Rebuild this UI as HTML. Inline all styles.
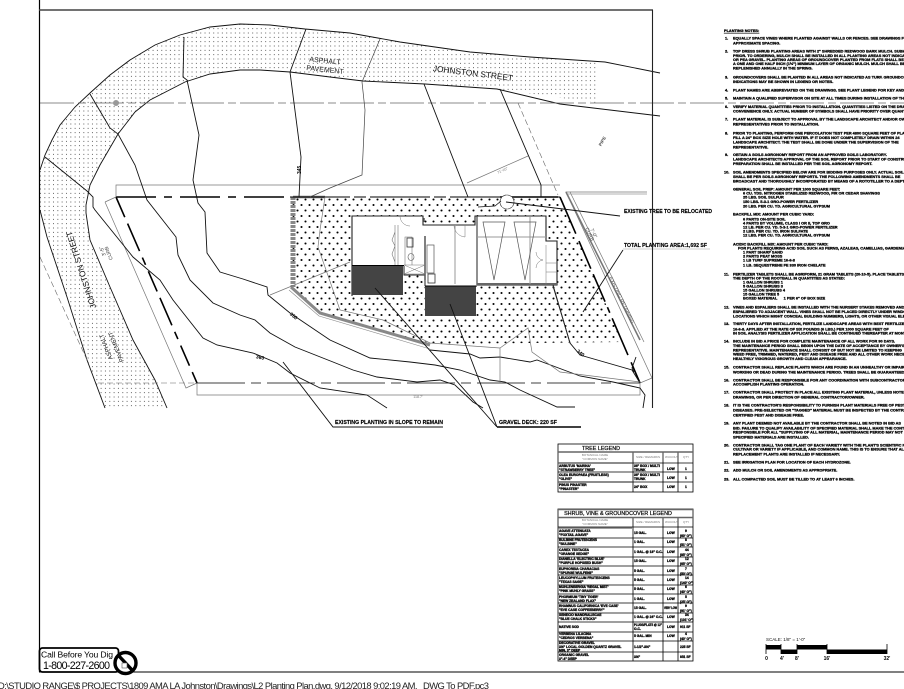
<!DOCTYPE html>
<html><head><meta charset="utf-8"><style>
html,body{margin:0;padding:0;background:#fff;width:904px;height:689px;overflow:hidden}
svg{display:block}
text{font-family:"Liberation Sans",sans-serif}
.n{filter:blur(.3px)}
.n text{font-size:3.85px;font-weight:bold;fill:#000;stroke:#000;stroke-width:.3}
.t{filter:blur(.25px)}
.t text{font-size:3.3px;font-weight:bold;fill:#000;stroke:#000;stroke-width:.3}
.h text{font-size:3px;fill:#777}
.l{font-size:5.2px;font-weight:bold;fill:#000;stroke:#000;stroke-width:.15}
.g{font-size:3.6px;fill:#777}
.c{fill:none;stroke:#111;stroke-width:.9}
.th{fill:none;stroke:#777;stroke-width:.7}
</style></head><body>
<svg width="904" height="689" viewBox="0 0 904 689" xmlns="http://www.w3.org/2000/svg">
<defs>
<pattern id="pd" width="8" height="11" patternUnits="userSpaceOnUse"><circle cx="1.5" cy="1.5" r="1.05" fill="#000"/><circle cx="5.5" cy="7" r="1.05" fill="#000"/></pattern>
<clipPath id="band"><path d="M105,408 L87,360 67,297 47,237 40,210 40,170 45,155 52,140 60,125 75,107 90,93 110,75 130,60 155,45 180,35 210,27 240,24 270,25 305,29 350,33 400,42 470,52 530,57 598,62 598,103 497,89 425,84 363,81 330,77 290,72 260,70 240,70 210,74 185,82 150,100 135,112 118,134 100,165 90,185 86,205 86,213 90,240 110,287 133,340 155,380 167,408Z"/></clipPath>
<path id="r3" d="M40,0H600M40,4.33H600M40,8.67H600" fill="none" stroke="#666" stroke-width="1" stroke-dasharray="1 3.33"/>
<g id="r9"><use href="#r3"/><use href="#r3" y="13"/><use href="#r3" y="26"/></g>
<g id="r27"><use href="#r9"/><use href="#r9" y="39"/><use href="#r9" y="78"/></g>
</defs>
<rect width="904" height="689" fill="#fff"/>

<!-- street dotted -->
<g clip-path="url(#band)"><use href="#r27" y="20"/><use href="#r27" y="137"/><use href="#r27" y="254"/><use href="#r9" y="371"/></g>
<path class="c" d="M105,408 L87,360 67,297 47,237 40,210 M40,170 45,155 52,140 60,125 75,107 90,93 110,75 130,60 155,45 180,35 210,27 240,24 270,25 305,29 350,33 400,42 470,52 530,57 605,62 660,73"/>
<path class="c" d="M660,116 560,104 497,89 425,84 363,81 330,77 290,72 260,70 240,70 210,74 185,82 150,100 135,112 118,134 100,165 90,185 86,205 86,213 90,240 110,287 133,340 155,380 167,408"/>

<!-- centre line -->
<path d="M40,103H904" stroke="#666" stroke-width=".8" stroke-dasharray="34 4 8 4"/>
<circle cx="116" cy="103" r="3" fill="#999"/>

<!-- planting area -->
<path d="M291,197 L560,197 622,342 430,344 320,313 291,287Z" fill="url(#pd)"/>

<!-- building -->
<path d="M352,216H423L425,225H475L477,216H546V241H557V285H476V286H425V275H403V266H352Z" fill="#fff"/>
<path d="M352,296V216H423V225H475V216H546V241H557V285H477" fill="none" stroke="#222" stroke-width="1.1"/>
<path d="M477,216V285M404,266V275H425V286" fill="none" stroke="#222" stroke-width="1"/>
<path d="M424,222V218M425,236V280" fill="none" stroke="#555" stroke-width="1.5"/>
<path d="M477,284H557" stroke="#666" stroke-width="2"/>
<path d="M455,225V284M477,237H546M530,217V284" fill="none" stroke="#999" stroke-width="1"/>
<path d="M483,222H505L494,280ZM514,222H536L525,280Z" fill="none" stroke="#555" stroke-width=".7"/>
<rect x="352" y="266" width="51" height="29" fill="#444"/>
<path d="M352,265.5H404" stroke="#000" stroke-width="1"/>
<rect x="425" y="286" width="51" height="30" fill="#444"/>
<path d="M425,286H477" stroke="#000" stroke-width="1"/>
<path d="M395,225V265M398,225V265M405,265V237H412V265M395,232l-3,8 3,6 -3,8 3,8" fill="none" stroke="#777" stroke-width=".6"/>
<rect x="407" y="238" width="6" height="9" fill="none" stroke="#333" stroke-width=".8"/>
<ellipse cx="411" cy="257" rx="3" ry="3.5" fill="none" stroke="#555" stroke-width=".6"/>
<path d="M404,265H425M404,274H425M404,265L425,274M425,265L404,274" stroke="#777" stroke-width=".5"/>
<rect x="427" y="245" width="7" height="28" fill="none" stroke="#555" stroke-width=".7"/>
<rect x="428" y="274" width="7" height="9" fill="none" stroke="#333" stroke-width=".8"/>
<path d="M465,225v12a12,12 0 0 1 -11,-12M400,216a10,10 0 0 0 10,10M546,245v40M536,252a8,8 0 0 0 7,8a8,8 0 0 0 -7,8M546,263h11M546,272h11" fill="none" stroke="#777" stroke-width=".5"/>

<!-- walls -->
<path d="M293,197V287" stroke="#888" stroke-width="5" stroke-dasharray="3 1"/>
<path d="M293,197H325" stroke="#777" stroke-width="2.5"/>
<path d="M291,287L320,313 430,345" fill="none" stroke="#888" stroke-width="3"/>
<path d="M289,290L319,316 430,349" fill="none" stroke="#888" stroke-width=".6"/>

<!-- property line -->
<path d="M116,197H290" stroke="#000" stroke-width="1.6" stroke-dasharray="40 8 8 8"/>
<path d="M290,197H560" stroke="#000" stroke-width="1" stroke-dasharray="60 4 12 4"/>
<path d="M500,197H558" stroke="#000" stroke-width="1.5"/>
<path d="M116,197L197,383" stroke="#000" stroke-width="1.6" stroke-dasharray="22 7 30 7 8 7"/>
<path d="M197,383H640" stroke="#000" stroke-width=".8" stroke-dasharray="48 6 10 6"/>
<path d="M560,197L640,383" stroke="#000" stroke-width="1.6" stroke-dasharray="40 8 30 6 30 6 6 6"/>

<!-- dims -->
<path class="th" d="M116,197V185H560M116,185V197M105,202L116,197M105,202L186,388 197,383M197,383V395H640V383M652,378L566,192H647M652,378L640,383M467,183L528,156M270,295L350,262"/>
<path d="M566,192L640,340" stroke="#777" stroke-width="1.6"/>
<path d="M570,192L644,342" stroke="#777" stroke-width=".7"/>
<path d="M568,194H647" stroke="#999" stroke-width=".8"/>
<path d="M40,257L87,360M98,383H197M518,103L558,195" fill="none" stroke="#666" stroke-width=".6" stroke-dasharray="6 3"/>

<!-- contours -->
<path class="c" d="M45,157L87,191 93,197 93,207 95,210 133,257 160,280 173,300 203,338 217,345 253,353 277,363 290,373 320,388 367,395 387,408"/>
<path class="c" d="M90,94L110,128 118,134 135,165 147,200 176,237 178,255 190,280 213,303 240,315 255,320 270,333 295,347 333,362 353,370 377,377 417,382 440,380 455,385 473,402 483,408"/>
<path class="c" d="M184,37L183,77 187,80 199,135 193,180 198,203 205,212 207,253 220,272 243,279 267,287 268,295 290,313 330,340 370,358 410,362 435,365 460,370 490,380 505,382 520,390 557,407 575,407"/>
<path class="c" d="M430,350L470,354 480,358 500,357 530,362 537,360 580,376 613,382 640,388 645,395 643,408"/>
<path class="c" d="M306,29L290,72 301,157 299,197"/>
<path class="c" d="M553,285L570,343 580,355 632,370 640,383"/>
<path class="c" d="M636,357L632,368 634,372"/>
<path class="c" d="M424,84L468,197M500,89L541,185V197"/>
<path d="M380,39L362,82 365,110 362,175 330,188 310,197" fill="none" stroke="#444" stroke-width=".7"/>
<path class="th" d="M325,197L320,230 318,247 340,310 383,320 430,343 500,348 528,328 532,352 560,372 640,382M500,348V383"/>
<path d="M553,286L570,343" stroke="#222" stroke-width=".9"/>

<!-- tree -->
<circle cx="507" cy="202" r="7" fill="#fff" stroke="#444" stroke-width=".7" stroke-dasharray="5 .5"/>
<path d="M478,207L495,206 501,201" fill="none" stroke="#111" stroke-width=".8"/>

<!-- leaders -->
<path d="M506,202L620,216" stroke="#111" stroke-width=".9"/>
<path d="M623,250L583,312" stroke="#111" stroke-width=".9"/>
<path d="M623,249H710" stroke="#bbb" stroke-width=".8"/>
<path d="M375,288L497,427M450,304L497,427" stroke="#111" stroke-width=".9"/>
<path d="M497,427H581" stroke="#000" stroke-width="1.6"/>
<path d="M283,362L333,427H443" fill="none" stroke="#111" stroke-width=".9"/>

<!-- plan labels -->
<text class="l" x="624" y="213" textLength="88" lengthAdjust="spacingAndGlyphs">EXISTING TREE TO BE RELOCATED</text>
<text class="l" x="624" y="247" textLength="83" lengthAdjust="spacingAndGlyphs">TOTAL PLANTING AREA:1,692 SF</text>
<text class="l" x="335" y="424" textLength="108" lengthAdjust="spacingAndGlyphs">EXISTING PLANTING IN SLOPE TO REMAIN</text>
<text class="l" x="499" y="424" textLength="58" lengthAdjust="spacingAndGlyphs">GRAVEL DECK: 220 SF</text>
<text x="325" y="63" font-size="7" text-anchor="middle" fill="#222" transform="rotate(6 325 61)">ASPHALT</text>
<text x="325" y="72" font-size="7" text-anchor="middle" fill="#222" transform="rotate(6 325 70)">PAVEMENT</text>
<text x="473" y="76" font-size="8.3" text-anchor="middle" fill="#111" transform="rotate(7 473 73)">JOHNSTON STREET</text>
<text x="81" y="273" font-size="8.3" text-anchor="middle" fill="#111" transform="rotate(-108 81 270)">JOHNSTON STREET</text>
<text x="106" y="349" font-size="6" text-anchor="middle" fill="#222" transform="rotate(-112 106 347)">ASPHALT</text>
<text x="116" y="349" font-size="6" text-anchor="middle" fill="#222" transform="rotate(-112 116 347)">PAVEMENT</text>
<text x="104" y="258" font-size="5" fill="#444" transform="rotate(-112 104 256)">3'-5"</text>
<text x="111" y="262" font-size="5" fill="#444" transform="rotate(-112 111 260)">CURB</text>
<text x="296" y="175" font-size="5" font-weight="bold" transform="rotate(-90 298 172)">345</text>
<text x="290" y="317" font-size="5" font-weight="bold" transform="rotate(40 293 315)">350</text>
<text x="256" y="359" font-size="5" font-weight="bold" transform="rotate(12 260 357)">360</text>
<text x="577" y="354" font-size="5" font-weight="bold" transform="rotate(40 580 352)">340</text>
<text x="602" y="143" font-size="4.5" font-weight="bold" fill="#555" text-anchor="middle" transform="rotate(-60 602 141)">PIPE</text>
<text class="g" x="418" y="398" text-anchor="middle">118.7'</text>
<text class="g" x="497" y="174" transform="rotate(-24 497 172)">71'-10"</text>
<text x="594" y="235" font-size="5" fill="#555" text-anchor="middle" transform="rotate(64 594 233)">7'-0"</text>
<text x="590" y="236" font-size="5" fill="#555" text-anchor="middle" transform="rotate(64 590 234)">CURB</text>
<text x="622" y="302" font-size="5" fill="#555" text-anchor="middle" transform="rotate(64 622 300)">EXISTING RETAINING</text>

<!-- frame -->
<path d="M39.5,0V672" stroke="#000" stroke-width="1.2"/>
<path d="M39,10H653" stroke="#444" stroke-width="1.6"/>
<path d="M652.5,10V408" stroke="#222" stroke-width="1.1"/>
<path d="M39,672H904" stroke="#000" stroke-width="1"/>

<!-- legends -->
<g fill="none" stroke="#000" stroke-width=".8">
<rect x="558" y="444" width="135" height="48"/>
<path d="M558,463H693M558,472H693M558,482H693M633,452V492M663,452V492M678,452V492"/>
<rect x="558" y="509" width="135" height="152"/>
<path d="M558,527H693M558,538H693M558,547H693M558,557H693M558,566H693M558,575H693M558,585H693M558,594H693M558,603H693M558,613H693M558,622H693M558,632H693M558,641H693M558,652H693M633,517V661M663,517V661M678,517V661"/>
</g>
<path d="M558,452H693M558,463H632M558,482H632" stroke="#666" stroke-width="1.4"/>
<path d="M558,509.5H693M558,517.5H693" stroke="#666" stroke-width="1.6"/>
<path d="M558,528H632M558,557H632M558,566H632M558,585H632M558,613H632M558,632H632M558,641H632" stroke="#666" stroke-width="1.2"/>
<text x="601" y="450" font-size="5.4" text-anchor="middle" fill="#111" stroke="#111" stroke-width=".25">TREE LEGEND</text>
<text x="618" y="515" font-size="5.4" text-anchor="middle" fill="#111" stroke="#111" stroke-width=".25">SHRUB, VINE &amp; GROUNDCOVER LEGEND</text>
<g class="h">
<text x="595" y="456" text-anchor="middle">BOTANICAL NAME</text><text x="595" y="460" text-anchor="middle">"COMMON NAME"</text>
<text x="636" y="458">SIZE / REMARKS</text><text x="665" y="458">WUCOLS</text><text x="683" y="458">QTY</text>
<text x="595" y="521" text-anchor="middle">BOTANICAL NAME</text><text x="595" y="525" text-anchor="middle">"COMMON NAME"</text>
<text x="636" y="523">SIZE / REMARKS</text><text x="665" y="523">WUCOLS</text><text x="683" y="523">QTY</text>
</g>
<g class="t">
<text x="559" y="467">ARBUTUS 'MARINA'</text><text x="559" y="471">"STRAWBERRY TREE"</text><text x="634" y="467">36" BOX / MULTI</text><text x="634" y="471">TRUNK</text><text x="667" y="470">LOW</text><text x="685" y="470">1</text>
<text x="559" y="476">OLEA EUROPAEA (FRUITLESS)</text><text x="559" y="480">"OLIVE"</text><text x="634" y="476">36" BOX / MULTI</text><text x="634" y="480">TRUNK</text><text x="667" y="479">LOW</text><text x="685" y="479">1</text>
<text x="559" y="486">PINUS PINASTER</text><text x="559" y="490">"PINASTER"</text><text x="634" y="488">24" BOX</text><text x="667" y="488">LOW</text><text x="685" y="488">1</text>

<text x="559" y="532">AGAVE ATTENUATA</text><text x="559" y="536">"FOXTAIL AGAVE"</text><text x="634" y="534">15 GAL.</text><text x="667" y="534">LOW</text><text x="685" y="532">9</text><text x="680" y="537">(60' O")</text>
<text x="559" y="541">BULBINE FRUTESCENS</text><text x="559" y="545">"BULBINE"</text><text x="634" y="543">1 GAL.</text><text x="667" y="543">LOW</text><text x="685" y="541">8</text><text x="680" y="546">(51' O")</text>
<text x="559" y="551">CAREX TESTACEA</text><text x="559" y="555">"ORANGE SEDGE"</text><text x="634" y="553">1 GAL. @ 18" O.C.</text><text x="667" y="553">LOW</text><text x="685" y="551">44</text><text x="680" y="556">(85' O")</text>
<text x="559" y="560">DIANELLA 'ELECTRIC BLUE'</text><text x="559" y="564">"PURPLE HOPSEED BUSH"</text><text x="634" y="562">15 GAL.</text><text x="667" y="562">LOW</text><text x="685" y="560">12</text><text x="680" y="565">(65' O")</text>
<text x="559" y="570">EUPHORBIA CHARACIAS</text><text x="559" y="574">"SPURGE WULFENII"</text><text x="634" y="572">5 GAL.</text><text x="667" y="572">LOW</text><text x="685" y="570">7</text><text x="680" y="575">(50' O")</text>
<text x="559" y="579">LEUCOPHYLLUM FRUTESCENS</text><text x="559" y="583">"TEXAS SAGE"</text><text x="634" y="581">5 GAL.</text><text x="667" y="581">LOW</text><text x="685" y="579">14</text><text x="680" y="584">(140' O")</text>
<text x="559" y="588">MUHLENBERGIA 'REGAL MIST'</text><text x="559" y="592">"PINK MUHLY GRASS"</text><text x="634" y="590">5 GAL.</text><text x="667" y="590">LOW</text><text x="685" y="588">6</text><text x="680" y="593">(40' O")</text>
<text x="559" y="598">PHORMIUM 'TINY TIGER'</text><text x="559" y="602">"NEW ZEALAND FLAX"</text><text x="634" y="600">1 GAL.</text><text x="667" y="600">LOW</text><text x="685" y="598">5</text><text x="680" y="603">(25' O")</text>
<text x="559" y="607">RHAMNUS CALIFORNICA 'EVE CASE'</text><text x="559" y="611">"EVE CASE COFFEEBERRY"</text><text x="634" y="609">15 GAL.</text><text x="664" y="609" textLength="13" lengthAdjust="spacingAndGlyphs">VERY LOW</text><text x="685" y="607">9</text><text x="680" y="612">(91' O")</text>
<text x="559" y="616">SENECIO MANDRALISCAE</text><text x="559" y="620">"BLUE CHALK STICKS"</text><text x="634" y="618">1 GAL. @ 24" O.C.</text><text x="667" y="618">LOW</text><text x="685" y="616">34</text><text x="680" y="621">(101' O")</text>
<text x="559" y="628">NATIVE SOD</text><text x="634" y="626" textLength="28" lengthAdjust="spacingAndGlyphs">PLUGS/FLATS @ 12"</text><text x="634" y="630">O.C.</text><text x="667" y="628">LOW</text><text x="680" y="628">911 SF</text>
<text x="559" y="635">VERBENA LILACINA</text><text x="559" y="639">"CEDROS VERBENA"</text><text x="634" y="637">5 GAL. MIN</text><text x="667" y="637">LOW</text><text x="685" y="635">4</text><text x="680" y="640">(40' O")</text>
<text x="559" y="644">DECORATIVE GRAVEL</text><text x="559" y="648">3/4" LOCAL GOLDEN QUARTZ GRAVEL</text><text x="559" y="651.5">MIN. 3" DEEP</text><text x="634" y="648">1-1/2"-3/4"</text><text x="680" y="648">225 SF</text>
<text x="559" y="656">ORGANIC GRAVEL</text><text x="559" y="660">3"-4" DEEP</text><text x="634" y="658">3/4"</text><text x="680" y="658">851 SF</text>
</g>

<!-- notes -->
<g class="n">
<text x="724" y="32" style="text-decoration:underline">PLANTING NOTES:</text>
<text x="725" y="39.5">1.</text><text x="733" y="39.5">EQUALLY SPACE VINES WHERE PLANTED AGAINST WALLS OR FENCES.  SEE DRAWINGS FOR</text>
<text x="733" y="44.5">APPROXIMATE SPACING.</text>
<text x="725" y="52.5">2.</text><text x="733" y="52.5">TOP DRESS SHRUB PLANTING AREAS WITH 2" SHREDDED REDWOOD BARK MULCH. SUBMIT</text>
<text x="733" y="57">PRIOR.  TO ORDERING, MULCH SHALL BE INSTALLED IN ALL PLANTING AREAS NOT INDICATED</text>
<text x="733" y="61">OR PEA GRAVEL.  PLANTING AREAS OF GROUNDCOVER PLANTED FROM FLATS SHALL BE</text>
<text x="733" y="65">A ONE AND ONE HALF INCH (1½") MINIMUM LAYER OF ORGANIC MULCH.  MULCH SHALL BE</text>
<text x="733" y="69.5">REPLENISHED ANNUALLY IN THE SPRING.</text>
<text x="725" y="78.5">3.</text><text x="733" y="78.5">GROUNDCOVERS SHALL BE PLANTED IN ALL AREAS NOT INDICATED AS TURF.  GROUNDCOVER</text>
<text x="733" y="83">INDICATIONS MAY BE SHOWN IN LEGEND OR NOTES.</text>
<text x="725" y="91.5">4.</text><text x="733" y="91.5">PLANT NAMES ARE ABBREVIATED ON THE DRAWINGS. SEE PLANT LEGEND FOR KEY AND</text>
<text x="725" y="99.5">5.</text><text x="733" y="99.5">MAINTAIN A QUALIFIED SUPERVISOR ON SITE AT ALL TIMES DURING INSTALLATION OF THE</text>
<text x="725" y="108">6.</text><text x="733" y="108">VERIFY MATERIAL QUANTITIES PRIOR TO INSTALLATION.  QUANTITIES LISTED ON THE DRAWINGS</text>
<text x="733" y="112.5">CONVENIENCE ONLY.  ACTUAL NUMBER OF SYMBOLS SHALL HAVE PRIORITY OVER QUANTITIES</text>
<text x="725" y="120.5">7.</text><text x="733" y="120.5">PLANT MATERIAL IS SUBJECT TO APPROVAL BY THE LANDSCAPE ARCHITECT AND/OR OWNER</text>
<text x="733" y="125.5">REPRESENTATIVES PRIOR TO INSTALLATION.</text>
<text x="725" y="134.5">8.</text><text x="733" y="134.5">PRIOR TO PLANTING, PERFORM ONE PERCOLATION TEST PER 4800 SQUARE FEET OF PLANTING</text>
<text x="733" y="139">FILL A 24" BOX SIZE HOLE WITH WATER. IF IT DOES NOT COMPLETELY DRAIN WITHIN 24</text>
<text x="733" y="143.5">LANDSCAPE  ARCHITECT.  THE TEST SHALL BE DONE UNDER THE SUPERVISION OF THE</text>
<text x="733" y="148.5">REPRESENTATIVE.</text>
<text x="725" y="156">9.</text><text x="733" y="156">OBTAIN A SOILS AGRONOMY REPORT FROM AN APPROVED SOILS LABORATORY.</text>
<text x="733" y="160.5">LANDSCAPE ARCHITECTS APPROVAL OF THE SOIL REPORT PRIOR TO START OF CONSTRUCTION</text>
<text x="733" y="165">PREPARATION SHALL BE INSTALLED PER THE SOIL AGRONOMY REPORT.</text>
<text x="724" y="173.5">10.</text><text x="733" y="173.5">SOIL AMENDMENTS SPECIFIED BELOW ARE FOR BIDDING PURPOSES ONLY.  ACTUAL SOIL</text>
<text x="733" y="178">SHALL BE PER SOILS AGRONOMY REPORTS. THE FOLLOWING AMENDMENTS SHALL  BE</text>
<text x="733" y="182.5">BROADCAST AND THOROUGHLY INCORPORATED BY MEANS OF A ROTOTILLER TO A DEPTH</text>
<text x="733" y="190.5">GENERAL SOIL PREP: AMOUNT PER 1000 SQUARE FEET:</text>
<text x="743" y="194.5">6 CU. YDS. NITROGEN STABILIZED REDWOOD, FIR OR CEDAR SHAVINGS</text>
<text x="743" y="198.5">25 LBS. SOIL SULFUR</text>
<text x="743" y="203">150 LBS. 5-3-1  GRO-POWER FERTILIZER</text>
<text x="743" y="207.5">20 LBS. PER CU. YD. AGRICULTURAL GYPSUM</text>
<text x="733" y="215.5">BACKFILL MIX: AMOUNT PER CUBIC YARD:</text>
<text x="743" y="220.5">6 PARTS ON-SITE SOIL</text>
<text x="743" y="224.5">4 PARTS BY VOLUME, CLASS I OR II, TOP GRO</text>
<text x="743" y="228.5">12 LB. PER CU. YD. 5-3-1 GRO-POWER FERTILIZER</text>
<text x="743" y="232.5">2 LBS. PER CU. YD. IRON SULFATE</text>
<text x="743" y="236.5">12 LBS. PER CU. YD. AGRICULTURAL GYPSUM</text>
<text x="733" y="245.5">ACIDIC BACKFILL MIX: AMOUNT PER CUBIC YARD:</text>
<text x="738" y="249.5">FOR PLANTS REQUIRING ACID SOIL SUCH AS FERNS, AZALEAS, CAMELLIAS, GARDENIAS</text>
<text x="743" y="253.5">1 PART SHARP SAND</text>
<text x="743" y="257.5">2 PARTS PEAT MOSS</text>
<text x="743" y="261.5">1 LB TURF SUPREME 16-6-8</text>
<text x="743" y="266.5">1 LB. SEQUESTRENE FE 330 IRON CHELATE</text>
<text x="724" y="275.5">11.</text><text x="733" y="275.5">FERTILIZER TABLETS SHALL BE AGRIFORM, 21 GRAM TABLETS (20-10-5).  PLACE TABLETS</text>
<text x="733" y="279.5">THE DEPTH OF THE ROOTBALL IN QUANTITIES AS STATED:</text>
<text x="743" y="283.5">1 GALLON SHRUBS  1</text>
<text x="743" y="287.5">5 GALLON SHRUBS  3</text>
<text x="743" y="291.5">15 GALLON SHRUBS  4</text>
<text x="743" y="295.5">15 GALLON TREE    5</text>
<text x="743" y="299.5" xml:space="preserve">BOXED MATERIAL      1 PER 6" OF BOX SIZE</text>
<text x="724" y="308.5">12.</text><text x="733" y="308.5">VINES AND ESPALIERS SHALL BE INSTALLED WITH THE NURSERY STAKES REMOVED AND</text>
<text x="733" y="313">ESPALIERED TO ADJACENT WALL.  VINES SHALL NOT BE PLACED DIRECTLY UNDER WINDOWS</text>
<text x="733" y="317.5">LOCATIONS WHICH MIGHT CONCEAL BUILDING NUMBERS, LIGHTS, OR OTHER VISUAL ELEMENTS</text>
<text x="724" y="325">13.</text><text x="733" y="325">THIRTY DAYS AFTER INSTALLATION, FERTILIZE LANDSCAPE AREAS WITH BEST FERTILIZER</text>
<text x="733" y="330.5">16-6-8.  APPLIED AT THE RATE OF SIX POUNDS (6 LBS.) PER 1000 SQUARE FEET OF</text>
<text x="733" y="334.5">IN SOIL ANALYSIS FERTILIZER APPLICATION SHALL BE CONTINUED THEREAFTER AT MONTHLY</text>
<text x="724" y="342.5">14.</text><text x="733" y="342.5">INCLUDE IN BID A PRICE FOR COMPLETE MAINTENANCE OF ALL WORK FOR 90 DAYS.</text>
<text x="733" y="347">THE MAINTENANCE PERIOD SHALL BEGIN UPON THE DATE OF ACCEPTANCE BY OWNER'S</text>
<text x="733" y="351.5">REPRESENTATIVE. MAINTENANCE SHALL CONSIST OF  BUT NOT BE LIMITED TO KEEPING</text>
<text x="733" y="355.5">WEED FREE, TRIMMED, WATERED, PEST AND DISEASE FREE AND ALL OTHER WORK NECESSARY</text>
<text x="733" y="360">HEALTHILY VIGOROUS GROWTH AND CLEAN APPEARANCE.</text>
<text x="724" y="368.5">15.</text><text x="733" y="368.5">CONTRACTOR SHALL REPLACE PLANTS WHICH ARE FOUND IN AN UNHEALTHY OR IMPAIRED</text>
<text x="733" y="373.5">WORKING  OR DEAD DURING THE MAINTENANCE PERIOD.  TREES SHALL BE GUARANTEED</text>
<text x="724" y="381.5">16.</text><text x="733" y="381.5">CONTRACTOR SHALL BE RESPONSIBLE FOR ANY COORDINATION WITH SUBCONTRACTORS TO</text>
<text x="733" y="385.5">ACCOMPLISH PLANTING OPERATION.</text>
<text x="724" y="393.5">17.</text><text x="733" y="393.5">CONTRACTOR SHALL PROTECT IN PLACE ALL EXISTING PLANT MATERIAL, UNLESS NOTED ON</text>
<text x="733" y="398.5">DRAWINGS, OR PER DIRECTION OF GENERAL CONTRACTOR/OWNER.</text>
<text x="724" y="406.5">18.</text><text x="733" y="406.5">IT IS THE CONTRACTOR'S RESPONSIBILITY TO FURNISH PLANT MATERIALS FREE OF PESTS</text>
<text x="733" y="411.5">DISEASES.  PRE-SELECTED OR "TAGGED" MATERIAL MUST BE INSPECTED BY THE CONTRACTOR</text>
<text x="733" y="416.5">CERTIFIED PEST AND  DISEASE FREE.</text>
<text x="724" y="424.5">19.</text><text x="733" y="424.5">ANY PLANT DEEMED NOT AVAILABLE BY THE CONTRACTOR SHALL BE NOTED IN BID AS</text>
<text x="733" y="429.5">BID.  FAILURE TO QUALIFY AVAILABILITY OF SPECIFIED MATERIAL SHALL MAKE THE CONTRACTOR</text>
<text x="733" y="433.5">RESPONSIBLE FOR ALL "SUPPLYING OF ALL MATERIAL, MAINTENANCE PERIOD MAY NOT BEGIN</text>
<text x="733" y="438.5">SPECIFIED MATERIALS ARE  INSTALLED.</text>
<text x="724" y="446.5">20.</text><text x="733" y="446.5">CONTRACTOR SHALL TAG ONE PLANT OF EACH VARIETY WITH THE PLANT'S SCIENTIFIC NAME</text>
<text x="733" y="450.5">CULTIVAR OR VARIETY IF APPLICABLE, AND COMMON NAME. THIS IS TO ENSURE THAT ALL</text>
<text x="733" y="455.5">REPLACEMENT PLANTS ARE INSTALLED IF NECESSARY.</text>
<text x="724" y="463.5">21.</text><text x="733" y="463.5">SEE IRRIGATION PLAN FOR LOCATION OF EACH HYDROZONE.</text>
<text x="724" y="471.5">22.</text><text x="733" y="471.5">ADD MULCH OR SOIL AMENDMENTS AS APPROPRIATE.</text>
<text x="724" y="480.5">23.</text><text x="733" y="480.5">ALL COMPACTED SOIL MUST BE TILLED TO AT LEAST 6 INCHES.</text>
</g>

<!-- scale -->
<text x="766" y="641" font-size="4.5" fill="#111">SCALE:  1/8" = 1'-0"</text>
<rect x="766" y="645" width="15" height="4.5" fill="#000"/><rect x="781" y="649.5" width="16" height="4.5" fill="#000"/><rect x="797" y="645" width="30" height="4.5" fill="#000"/><rect x="827" y="649.5" width="60" height="4.5" fill="#000"/>
<path d="M766,644V654M781,644V654M797,644V654M827,644V654M887,644V654" stroke="#000" stroke-width=".8"/>
<g font-size="5" font-weight="bold" text-anchor="middle"><text x="766.5" y="660">0</text><text x="782" y="660">4'</text><text x="797" y="660">8'</text><text x="827" y="660">16'</text><text x="887" y="660">32'</text></g>

<!-- call box -->
<rect x="39.5" y="648" width="79" height="24" rx="3" fill="#fff" stroke="#000" stroke-width="1.8"/>
<text x="41" y="657.5" font-size="8.6" fill="#000" textLength="72">Call Before You Dig</text>
<text x="43" y="669" font-size="10.6" fill="#000" textLength="67">1-800-227-2600</text>
<circle cx="125.5" cy="663" r="10.5" fill="#fff" stroke="#000" stroke-width="3.4"/>
<path d="M118,655L133,671" stroke="#000" stroke-width="3.4"/>
<rect x="122" y="663" width="5" height="5" fill="#fff" stroke="#555" stroke-width=".6"/>

<!-- path footer -->
<text x="-2" y="689" font-size="9.4" fill="#222" textLength="491" xml:space="preserve">D:\STUDIO RANGE\$ PROJECTS\1809 AMA LA Johnston\Drawings\L2 Planting Plan.dwg, 9/12/2018 9:02:19 AM,   DWG To PDF.pc3</text>
</svg>
</body></html>
